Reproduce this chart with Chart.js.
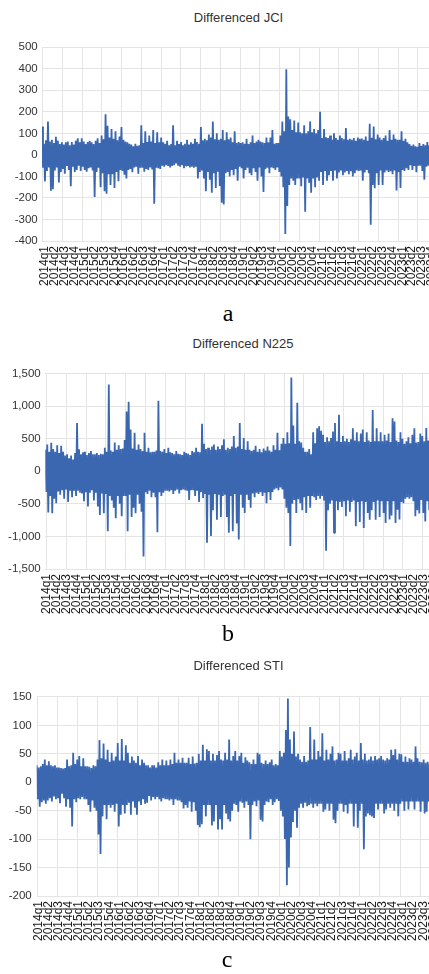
<!DOCTYPE html>
<html>
<head>
<meta charset="utf-8">
<script src="https://cdn.jsdelivr.net/npm/chart.js@4.4.1/dist/chart.umd.min.js"></script>
<style>
  html, body { margin: 0; padding: 0; background: #fff; }
  body { width: 429px; height: 974px; overflow: hidden; position: relative; font-family: "Liberation Sans", Arial, sans-serif; }
  canvas { position: absolute; left: 0; }
  .title { position: absolute; font-size: 13px; color: #333; white-space: nowrap; transform: translate(-50%, -50%); }
  .cap { position: absolute; font-family: "Liberation Serif", serif; font-size: 24px; color: #000; transform: translate(-50%, -50%); }
</style>
</head>
<body>
<div class="title" style="left:238.5px; top:16.7px">Differenced JCI</div>
<canvas id="chartA" width="460" height="261" style="top:36px; width:460px; height:261px"></canvas>
<div class="cap" style="left:228px; top:313px">a</div>

<div class="title" style="left:243px; top:342.7px">Differenced N225</div>
<canvas id="chartB" width="460" height="263" style="top:362px; width:460px; height:263px"></canvas>
<div class="cap" style="left:228px; top:633px">b</div>

<div class="title" style="left:238.5px; top:665px">Differenced STI</div>
<canvas id="chartC" width="460" height="267" style="top:685px; width:460px; height:267px"></canvas>
<div class="cap" style="left:227px; top:959px">c</div>

<script>
// Globals
var LINE_COLOR = '#3a67b0';
var GRID_COLOR = '#e4e4e4';
var TEXT_COLOR = '#333333';
var PER_QUARTER = 10; // condensed observations per quarter

var quarters = ['2014q1', '2014q2', '2014q3', '2014q4', '2015q1', '2015q2', '2015q3', '2015q4',
  '2016q1', '2016q2', '2016q3', '2016q4', '2017q1', '2017q2', '2017q3', '2017q4',
  '2018q1', '2018q2', '2018q3', '2018q4', '2019q1', '2019q2', '2019q3', '2019q4',
  '2020q1', '2020q2', '2020q3', '2020q4', '2021q1', '2021q2', '2021q3', '2021q4',
  '2022q1', '2022q2', '2022q3', '2022q4', '2023q1', '2023q2', '2023q3', '2023q4'];

// Differenced JCI, 10 readings per quarter
var jciValues = [
  132, -60, 52, -123, 68, -75, 155, -58, 62, -166,
  70, -160, 55, -72, 84, -58, 66, -128, 50, -80,
  58, -65, 48, -88, 58, -52, 62, -70, 45, -146,
  60, -55, 48, -80, 66, -70, 77, -50, 58, -75,
  77, -55, 62, -70, 50, -78, 60, -62, 65, -58,
  58, -72, 50, -196, 66, -80, 77, -60, 55, -150,
  90, -85, 72, -169, 189, -181, 135, -90, 80, -140,
  120, -90, 75, -154, 110, -80, 68, -123, 85, -70,
  129, -75, 70, -92, 62, -110, 58, -70, 52, -66,
  48, -80, 40, -58, 52, -55, 42, -88, 45, -60,
  137, -60, 55, -78, 110, -65, 60, -70, 90, -58,
  62, -68, 115, -227, 55, -60, 105, -62, 58, -65,
  80, -50, 58, -55, 52, -48, 65, -52, 45, -58,
  50, -52, 137, -48, 45, -40, 65, -50, 50, -55,
  60, -48, 45, -62, 52, -50, 70, -52, 48, -58,
  58, -55, 52, -60, 75, -55, 60, -110, 52, -80,
  129, -72, 68, -110, 75, -169, 68, -80, 95, -115,
  80, -176, 155, -85, 72, -154, 100, -78, 70, -145,
  75, -222, 115, -230, 68, -85, 105, -80, 72, -100,
  80, -70, 58, -95, 110, -65, 55, -120, 60, -55,
  55, -62, 58, -110, 52, -70, 75, -60, 50, -85,
  58, -95, 90, -62, 55, -80, 62, -120, 70, -58,
  62, -100, 58, -172, 55, -65, 81, -60, 58, -85,
  81, -58, 115, -62, 52, -70, 55, -58, 55, -80,
  90, -100, 155, -150, 110, -367, 397, -237, 178, -140,
  165, -110, 115, -120, 160, -140, 105, -110, 150, -110,
  105, -146, 100, -105, 137, -264, 100, -110, 110, -130,
  155, -176, 105, -110, 120, -150, 100, -105, 115, -120,
  200, -80, 78, -140, 120, -75, 82, -120, 78, -95,
  90, -75, 70, -120, 100, -72, 78, -110, 70, -82,
  90, -72, 78, -95, 72, -82, 125, -75, 70, -90,
  75, -76, 70, -100, 78, -85, 65, -72, 80, -75,
  75, -72, 76, -120, 70, -82, 85, -70, 65, -85,
  145, -324, 80, -140, 132, -155, 72, -85, 95, -140,
  80, -72, 70, -140, 78, -82, 90, -72, 65, -80,
  115, -76, 70, -90, 95, -72, 75, -165, 70, -80,
  70, -154, 110, -70, 65, -75, 75, -62, 58, -70,
  50, -48, 42, -70, 48, -52, 40, -80, 38, -50,
  55, -50, 42, -75, 50, -115, 45, -55, 60, -50,
  45, -60, 48, -52, 50, -50, 42, -65, 52, -50
];

// Differenced N225
var n225Values = [
  330, -320, 410, -634, 300, -380, 438, -645, 340, -420,
  300, -490, 400, -310, 280, -360, 390, -290, 300, -420,
  240, -280, 260, -470, 200, -300, 240, -400, 180, -300,
  280, -380, 740, -300, 337, -330, 260, -340, 290, -460,
  300, -320, 250, -540, 280, -330, 310, -290, 260, -450,
  260, -330, 280, -540, 250, -670, 270, -340, 260, -644,
  360, -350, 300, -920, 1330, -380, 320, -450, 300, -560,
  440, -720, 330, -380, 400, -500, 340, -690, 350, -380,
  480, -380, 915, -920, 1066, -360, 640, -700, 350, -560,
  590, -644, 330, -360, 410, -500, 340, -620, 310, -1307,
  590, -320, 300, -350, 360, -300, 290, -400, 300, -330,
  300, -400, 320, -935, 1080, -320, 310, -380, 300, -330,
  340, -300, 280, -300, 360, -310, 290, -290, 280, -350,
  260, -300, 310, -280, 270, -340, 260, -290, 250, -280,
  300, -290, 280, -300, 270, -440, 250, -290, 310, -290,
  290, -380, 360, -300, 300, -470, 290, -320, 730, -410,
  420, -350, 340, -1097, 360, -360, 330, -995, 380, -600,
  410, -350, 330, -745, 380, -360, 340, -700, 400, -380,
  490, -360, 330, -700, 360, -945, 340, -380, 380, -920,
  540, -350, 360, -800, 380, -1046, 740, -360, 340, -560,
  510, -640, 330, -360, 460, -440, 330, -560, 310, -340,
  330, -400, 390, -330, 300, -350, 340, -320, 290, -380,
  350, -330, 320, -490, 380, -320, 320, -440, 300, -320,
  400, -280, 330, -260, 590, -290, 320, -250, 420, -280,
  510, -420, 420, -560, 600, -640, 430, -1147, 1440, -500,
  700, -440, 420, -640, 1050, -430, 460, -490, 440, -600,
  360, -400, 300, -640, 300, -380, 340, -560, 260, -380,
  600, -400, 430, -440, 660, -380, 690, -420, 620, -380,
  560, -450, 450, -1220, 520, -600, 460, -500, 510, -450,
  610, -945, 740, -460, 460, -600, 865, -470, 450, -550,
  540, -460, 460, -690, 500, -450, 450, -620, 490, -470,
  660, -450, 470, -845, 600, -470, 460, -780, 580, -460,
  640, -870, 450, -470, 600, -640, 470, -745, 450, -600,
  940, -470, 460, -745, 660, -450, 460, -700, 600, -460,
  460, -640, 560, -795, 470, -460, 580, -740, 450, -680,
  815, -460, 765, -795, 470, -590, 450, -740, 600, -470,
  500, -490, 420, -420, 460, -400, 520, -420, 430, -400,
  560, -460, 660, -690, 440, -600, 450, -650, 580, -440,
  540, -640, 460, -770, 665, -460, 470, -600, 520, -660,
  600, -460, 550, -650, 470, -680, 460, -720, 560, -470
];

// Differenced STI
var stiValues = [
  30, -30, 26, -43, 28, -35, 32, -32, 40, -38,
  30, -32, 37, -28, 30, -34, 28, -25, 30, -30,
  26, -28, 26, -37, 25, -20, 24, -28, 25, -43,
  40, -30, 28, -45, 30, -78, 52, -30, 32, -35,
  40, -28, 46, -30, 28, -26, 42, -30, 28, -30,
  28, -40, 27, -52, 25, -32, 30, -45, 28, -50,
  40, -92, 74, -126, 42, -60, 68, -40, 40, -65,
  57, -40, 36, -45, 52, -40, 38, -52, 45, -38,
  69, -78, 38, -57, 76, -40, 38, -55, 65, -40,
  52, -36, 34, -57, 45, -34, 38, -45, 34, -57,
  46, -34, 30, -40, 40, -30, 34, -38, 30, -36,
  30, -24, 26, -32, 30, -26, 30, -30, 26, -26,
  35, -30, 30, -34, 40, -28, 30, -30, 38, -30,
  30, -32, 40, -30, 32, -40, 52, -30, 34, -32,
  40, -32, 34, -35, 43, -46, 34, -40, 34, -45,
  43, -34, 32, -52, 45, -35, 33, -50, 34, -75,
  50, -79, 38, -74, 66, -40, 38, -60, 58, -40,
  55, -40, 38, -76, 50, -69, 38, -40, 48, -83,
  55, -65, 40, -83, 38, -40, 52, -55, 40, -65,
  75, -69, 38, -50, 46, -38, 55, -40, 38, -52,
  46, -34, 52, -36, 34, -45, 44, -34, 38, -40,
  35, -100, 32, -40, 40, -34, 32, -42, 52, -32,
  49, -66, 34, -69, 32, -40, 38, -34, 32, -35,
  35, -30, 40, -40, 30, -35, 32, -30, 30, -33,
  55, -50, 45, -60, 52, -100, 92, -181, 147, -150,
  75, -97, 50, -70, 89, -50, 45, -80, 50, -45,
  40, -38, 36, -45, 46, -36, 36, -42, 38, -40,
  97, -38, 40, -45, 75, -38, 40, -42, 55, -38,
  45, -38, 86, -52, 38, -48, 57, -38, 40, -50,
  50, -38, 63, -66, 38, -72, 40, -50, 52, -38,
  50, -38, 38, -52, 55, -40, 38, -55, 42, -38,
  57, -38, 40, -78, 45, -38, 52, -80, 38, -50,
  69, -38, 40, -118, 50, -60, 38, -55, 40, -58,
  45, -60, 38, -63, 46, -38, 40, -48, 42, -38,
  46, -38, 40, -55, 38, -48, 42, -38, 40, -45,
  57, -38, 48, -50, 58, -38, 40, -60, 50, -38,
  49, -34, 36, -50, 45, -34, 36, -48, 42, -34,
  40, -34, 36, -48, 63, -34, 42, -34, 36, -52,
  35, -34, 40, -55, 34, -52, 36, -34, 32, -50,
  35, -34, 40, -34, 36, -48, 34, -44, 38, -34
];

Chart.defaults.font.family = '"Liberation Sans", Arial, sans-serif';

// Chart Creation
function makeChart(id, values, cfg) {
  var points = [];
  for (var i = 0; i < values.length; i++) {
    points.push({ x: cfg.xMin + i / PER_QUARTER, y: values[i] });
  }
  var gridTicks = [];
  for (var g = cfg.gridStart - cfg.gridStep; g < cfg.xMax; g += cfg.gridStep) {
    gridTicks.push({ value: g });
  }
  return new Chart(document.getElementById(id), {
    type: 'line',
    data: {
      datasets: [{
        data: points,
        borderColor: LINE_COLOR,
        borderWidth: 1.8,
        borderJoinStyle: 'bevel',
        pointRadius: 0,
        tension: 0,
        fill: false
      }]
    },
    options: {
      responsive: false,
      animation: false,
      events: [],
      layout: { padding: { top: 8, left: 0, right: 0, bottom: 0 } },
      plugins: { legend: { display: false }, tooltip: { enabled: false } },
      scales: {
        x: {
          type: 'linear',
          min: cfg.xMin,
          max: cfg.xMax,
          grid: { display: false, drawTicks: false, tickLength: 0 },
          border: { display: false },
          afterBuildTicks: function (scale) {
            scale.ticks = quarters.map(function (q, i) { return { value: i }; });
          },
          afterFit: function (scale) { scale.height = 56; },
          ticks: {
            autoSkip: false,
            minRotation: 90,
            maxRotation: 90,
            padding: 5,
            color: '#1a1a1a',
            font: { size: 12 },
            callback: function (v) { return quarters[v]; }
          }
        },
        xg: {
          type: 'linear',
          position: 'bottom',
          min: cfg.xMin,
          max: cfg.xMax,
          grid: { color: GRID_COLOR, drawTicks: false },
          border: { display: false },
          ticks: { display: false },
          afterBuildTicks: function (scale) { scale.ticks = gridTicks.slice(); },
          afterFit: function (scale) { scale.height = 0; }
        },
        y: {
          min: cfg.yMin,
          max: cfg.yMax,
          grid: { color: GRID_COLOR, drawTicks: false },
          border: { display: false },
          afterFit: function (scale) { scale.width = cfg.left; },
          ticks: {
            stepSize: cfg.yStep,
            padding: cfg.labelPad,
            color: TEXT_COLOR,
            font: { size: 11.5 },
            callback: function (v) { return v.toLocaleString('en-US'); }
          }
        }
      }
    }
  });
}

makeChart('chartA', jciValues, {
  xMin: -0.27, xMax: 41.82, left: 42, labelPad: 4.3,
  gridStart: 1.77, gridStep: 1.99,
  yMin: -400, yMax: 500, yStep: 100
});
makeChart('chartB', n225Values, {
  xMin: -0.17, xMax: 41.63, left: 45.3, labelPad: 4.6,
  gridStart: 1.95, gridStep: 1.996,
  yMin: -1500, yMax: 1500, yStep: 500
});
makeChart('chartC', stiValues, {
  xMin: -0.16, xMax: 41.63, left: 36.7, labelPad: 5,
  gridStart: 1.88, gridStep: 1.99,
  yMin: -200, yMax: 150, yStep: 50
});
</script>
</body>
</html>
